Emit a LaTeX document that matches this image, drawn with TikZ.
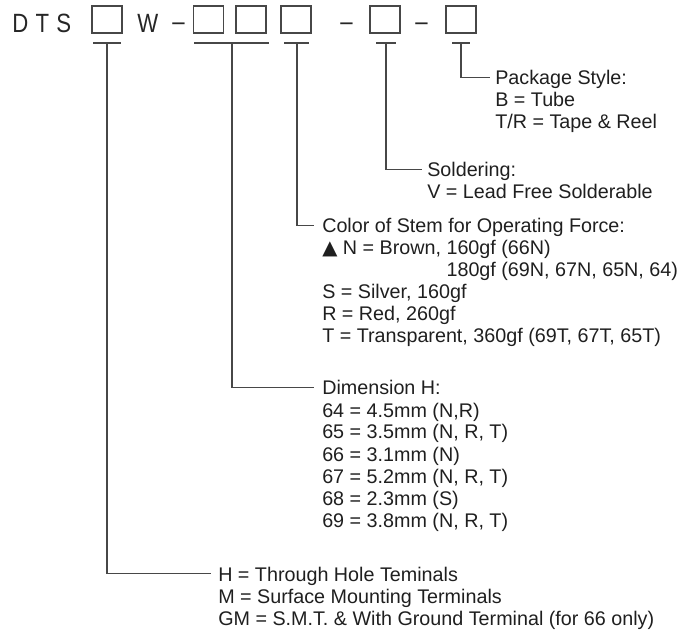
\documentclass[tikz,border=0pt]{standalone}
\usepackage{fontspec}
\setmainfont{Liberation Sans}
\newfontfamily\hdrfont[FakeStretch=0.84]{Liberation Sans}
\newfontfamily\symfont{DejaVu Sans}
\begin{document}
\begin{tikzpicture}[x=0.75pt,y=-0.75pt,
  conn/.style={draw=black!72, line width=1pt},
  txt/.style={inner sep=0pt, anchor=base west, text=black!88, font=\fontsize{14.8}{17}\selectfont},
  hdr/.style={inner sep=0pt, anchor=base west, text=black!85, font=\hdrfont\fontsize{19.8}{22}\selectfont},
  slot/.style={draw=black!72, line width=1pt, minimum width=22.5pt, minimum height=20.25pt, inner sep=0pt}]
\useasboundingbox (0,0) rectangle (696,641);
% header
\node[hdr] (dts) at (12,33) {D\kern5.5pt T\kern5.5pt S};
\node[slot] (b1) at (107,19.5) {};
\node[hdr] (w) at (137,33) {W};
\node[hdr] (d1) at (172,33) {\raisebox{2pt}{–}};
\node[slot] (b2) at (208.5,19.5) {};
\node[slot] (b3) at (251,19.5) {};
\node[slot] (b4) at (296,19.5) {};
\node[hdr] (d2) at (340,33) {\raisebox{2pt}{–}};
\node[slot] (b5) at (385,19.5) {};
\node[hdr] (d3) at (415,33) {\raisebox{2pt}{–}};
\node[slot] (b6) at (461,19.5) {};
% bars
\coordinate (t1a) at (93,43);  \coordinate (t1b) at (121,43); \coordinate (t1) at (107,43);
\coordinate (t2a) at (194,43); \coordinate (t2b) at (269,43); \coordinate (t2) at (232,43);
\coordinate (t4a) at (284,43); \coordinate (t4b) at (309,43); \coordinate (t4) at (297,43);
\coordinate (t5a) at (376,43); \coordinate (t5b) at (396,43); \coordinate (t5) at (386,43);
\coordinate (t6a) at (452,43); \coordinate (t6b) at (470,43); \coordinate (t6) at (461,43);
\foreach \i in {1,2,4,5,6} \draw[conn] (t\i a) -- (t\i b);
% package style
\node[txt] (pk) at (495,85) {Package Style:};
\node[txt] (pk1) at (495,107) {B = Tube};
\node[txt] (pk2) at (495,129) {T/R = Tape \& Reel};
% soldering
\node[txt] (so) at (427,177) {Soldering:};
\node[txt] (so1) at (427,199) {V = Lead Free Solderable};
% color
\node[txt] (co) at (322,233) {Color of Stem for Operating Force:};
\node[txt] (co1) at (322,255) {{\symfont ▲} N = Brown, 160gf (66N)};
\node[txt] (co2) at (322,277) {\phantom{{\symfont ▲} N = Brown, }180gf (69N, 67N, 65N, 64)};
\node[txt] (co3) at (322,299) {S = Silver, 160gf};
\node[txt] (co4) at (322,321) {R = Red, 260gf};
\node[txt] (co5) at (322,343) {T = Transparent, 360gf (69T, 67T, 65T)};
% dimension
\node[txt] (di) at (322,395) {Dimension H:};
\node[txt] (di1) at (322,417) {64 = 4.5mm (N,R)};
\node[txt] (di2) at (322,439) {65 = 3.5mm (N, R, T)};
\node[txt] (di3) at (322,461) {66 = 3.1mm (N)};
\node[txt] (di4) at (322,483) {67 = 5.2mm (N, R, T)};
\node[txt] (di5) at (322,505) {68 = 2.3mm (S)};
\node[txt] (di6) at (322,527) {69 = 3.8mm (N, R, T)};
% terminals
\node[txt] (te) at (218,581) {H = Through Hole Teminals};
\node[txt] (te1) at (218,603) {M = Surface Mounting Terminals};
\node[txt] (te2) at (218,625) {GM = S.M.T. \& With Ground Terminal (for 66 only)};
% connectors
\draw[conn] (t6) |- ([xshift=-3.75pt,yshift=5.5pt]pk.base west);
\draw[conn] (t5) |- ([xshift=-3.75pt,yshift=5.5pt]so.base west);
\draw[conn] (t4) |- ([xshift=-6pt,yshift=5.5pt]co.base west);
\draw[conn] (t2) |- ([xshift=-6pt,yshift=5.5pt]di.base west);
\draw[conn] (t1) |- ([xshift=-5pt,yshift=5.5pt]te.base west);
\end{tikzpicture}
\end{document}
